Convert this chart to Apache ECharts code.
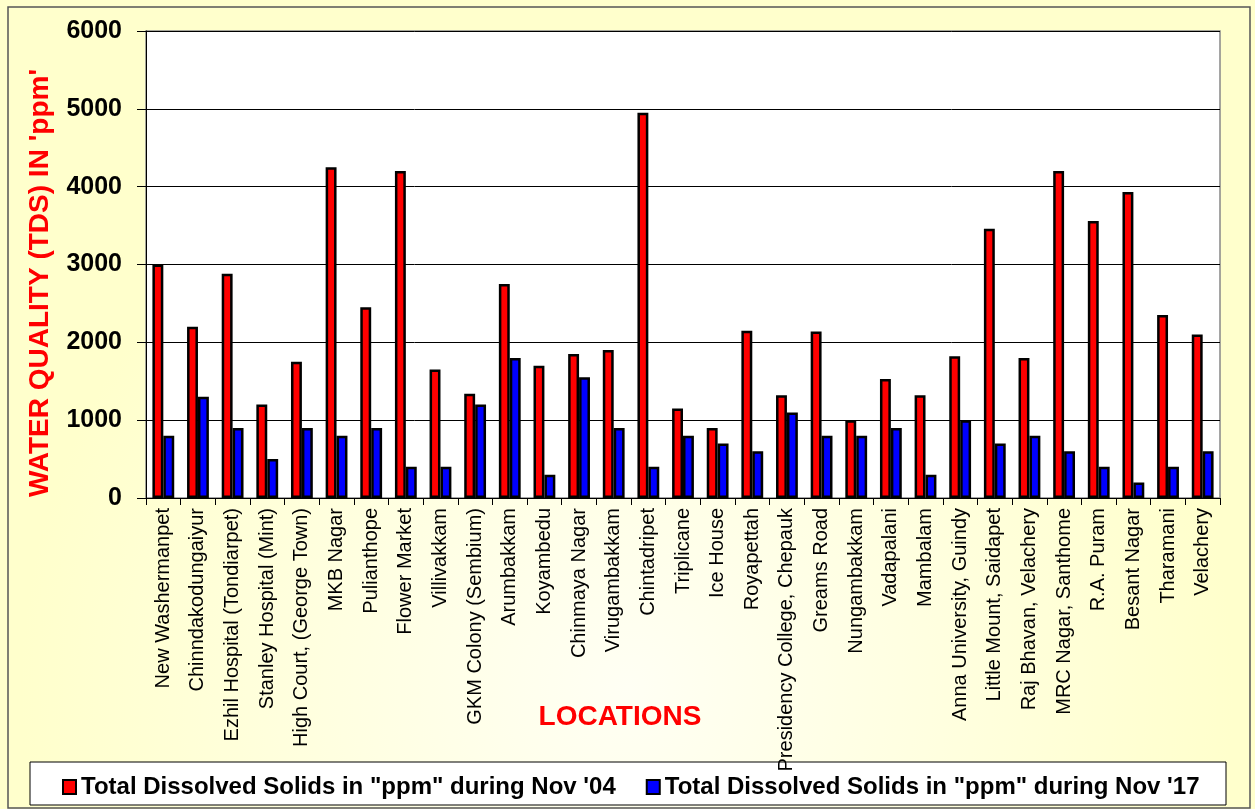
<!DOCTYPE html>
<html><head><meta charset="utf-8">
<script src="https://cdn.jsdelivr.net/npm/echarts@6/dist/echarts.min.js"></script>
<style>html,body{margin:0;padding:0;background:#fff}#c{width:1255px;height:809px}</style>
</head><body><div id="c"></div>
<script>
const categories = ["New Washermanpet","Chinndakodungaiyur","Ezhil Hospital (Tondiarpet)","Stanley Hospital (Mint)","High Court, (George Town)","MKB Nagar","Pulianthope","Flower Market","Villivakkam","GKM Colony (Sembium)","Arumbakkam","Koyambedu","Chinmaya Nagar","Virugambakkam","Chintadripet","Triplicane","Ice House","Royapettah","Presidency College, Chepauk","Greams Road","Nungambakkam","Vadapalani","Mambalam","Anna University, Guindy","Little Mount, Saidapet","Raj Bhavan, Velachery","MRC Nagar, Santhome","R.A. Puram","Besant Nagar","Tharamani","Velachery"];
const tds2004 = [3000,2200,2880,1200,1750,4250,2450,4200,1650,1340,2750,1700,1850,1900,4950,1150,900,2150,1320,2140,1000,1530,1320,1820,3460,1800,4200,3560,3930,2350,2100];
const tds2017 = [800,1300,900,500,900,800,900,400,400,1200,1800,300,1550,900,400,800,700,600,1100,800,800,900,300,1000,700,800,600,400,200,400,600];
const seriesNames = ['Total Dissolved Solids in "ppm" during Nov \'04','Total Dissolved Solids in "ppm" during Nov \'17'];
const yTicks = {min:0,max:6000,interval:1000};
const xTitle = 'LOCATIONS';
const yTitle = "WATER QUALITY (TDS) IN 'ppm'";

const chart = echarts.init(document.getElementById('c'));
const F = 'Arial, "Liberation Sans", sans-serif';
chart.setOption({
  backgroundColor: {type:'radial',x:0.5,y:0.85,r:0.75,colorStops:[{offset:0,color:'#FFFFF4'},{offset:1,color:'#FFFFCC'}]},
  animation:false,
  textStyle:{fontFamily:F},
  graphic:[
    {type:'rect',shape:{x:8,y:7,width:1242,height:801},style:{fill:'none',stroke:'#555',lineWidth:1.5},z:-1},
    {type:'rect',shape:{x:30,y:762,width:1196,height:43},style:{fill:'#fff',stroke:'#000',lineWidth:1},z:0},
    {type:'text',x:620,y:717,style:{text:xTitle,fill:'#ff0000',font:'bold 28px '+F,textAlign:'center',textVerticalAlign:'middle'},z:5},
    {type:'text',x:40,y:283,rotation:Math.PI/2,style:{text:yTitle,fill:'#ff0000',font:'bold 28px '+F,textAlign:'center',textVerticalAlign:'middle'},z:5}
  ],
  legend:{
    left:57, top:770, itemGap:30, itemWidth:13, itemHeight:14, icon:'rect', padding:[5,5,5,5],
    itemStyle:{borderColor:'#000',borderWidth:2},
    textStyle:{fontSize:24,fontWeight:'bold',color:'#000',fontFamily:F},
    data:seriesNames, z:5
  },
  grid:{left:146,right:35,top:31,bottom:311,show:true,backgroundColor:'#fff',borderColor:'#888',borderWidth:1.5},
  xAxis:{
    type:'category', data:categories,
    axisLine:{lineStyle:{color:'#000',width:1}},
    axisTick:{show:true,length:7,lineStyle:{color:'#000'}},
    axisLabel:{interval:0,rotate:90,fontSize:20,color:'#000',margin:10,fontFamily:F}
  },
  yAxis:{
    type:'value', min:yTicks.min, max:yTicks.max, interval:yTicks.interval,
    axisLine:{show:true,lineStyle:{color:'#000',width:1}},
    axisTick:{show:true,length:9,lineStyle:{color:'#000'}},
    axisLabel:{fontSize:25,fontWeight:'bold',color:'#000',margin:24,fontFamily:F,formatter:v=>String(v)},
    splitLine:{lineStyle:{color:'#000',width:1}}
  },
  series:[
    {name:seriesNames[0],type:'bar',data:tds2004,barGap:'0%',barCategoryGap:'37%',
     itemStyle:{color:'#ff0000',borderColor:'#000',borderWidth:2.5}},
    {name:seriesNames[1],type:'bar',data:tds2017,barGap:'0%',barCategoryGap:'37%',
     itemStyle:{color:'#0000ff',borderColor:'#000',borderWidth:2.5}}
  ]
});
</script></body></html>
